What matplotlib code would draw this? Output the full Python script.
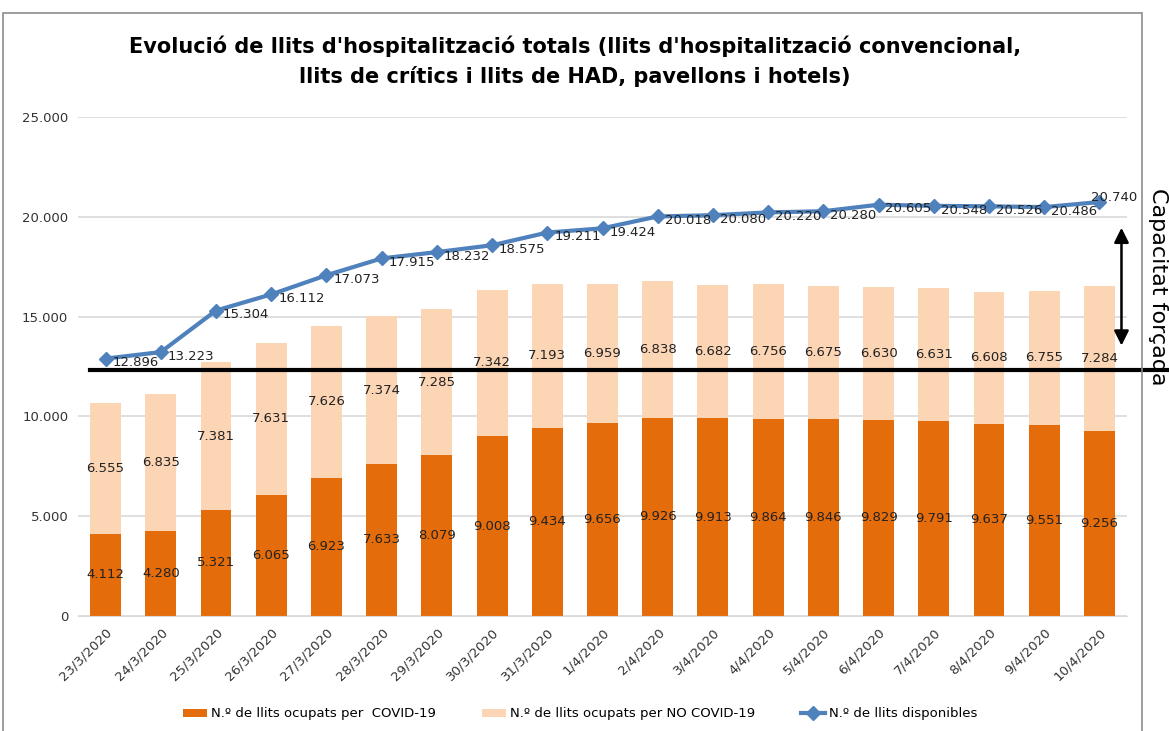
import matplotlib.pyplot as plt
import numpy as np
from matplotlib.patches import Rectangle

# data
dates = ["23/3/2020", "24/3/2020", "25/3/2020", "26/3/2020", "27/3/2020",
         "28/3/2020", "29/3/2020", "30/3/2020", "31/3/2020", "1/4/2020",
         "2/4/2020", "3/4/2020", "4/4/2020", "5/4/2020", "6/4/2020",
         "7/4/2020", "8/4/2020", "9/4/2020", "10/4/2020"]
covid = [4112, 4280, 5321, 6065, 6923, 7633, 8079, 9008, 9434, 9656,
         9926, 9913, 9864, 9846, 9829, 9791, 9637, 9551, 9256]
no_covid = [6555, 6835, 7381, 7631, 7626, 7374, 7285, 7342, 7193, 6959,
            6838, 6682, 6756, 6675, 6630, 6631, 6608, 6755, 7284]
disponibles = [12896, 13223, 15304, 16112, 17073, 17915, 18232, 18575, 19211, 19424,
               20018, 20080, 20220, 20280, 20605, 20548, 20526, 20486, 20740]
capacitat = 12320  # black reference line
arrow_top, arrow_bottom = 19450, 13550


def fmt(v):
    return f"{v:,}".replace(",", ".")


c_covid = '#E46C0A'
c_nocovid = '#FCD5B5'
c_line = '#4F81BD'

fig = plt.figure(figsize=(11.69, 7.31), dpi=100)
ax = fig.add_axes([78 / 1169, 1 - 616 / 731, 1049 / 1169, 499 / 731])

x = np.arange(len(dates))
width = 0.56
b1 = ax.bar(x, covid, width, color=c_covid, label='N.º de llits ocupats per  COVID-19', zorder=2)
b2 = ax.bar(x, no_covid, width, bottom=covid, color=c_nocovid,
            label='N.º de llits ocupats per NO COVID-19', zorder=2)
ln, = ax.plot(x, disponibles, color=c_line, lw=3, marker='D', ms=7,
              label='N.º de llits disponibles', zorder=4)

# data labels
for i in range(len(dates)):
    ax.text(x[i], covid[i] / 2, fmt(covid[i]), ha='center', va='center',
            fontsize=9.5, color='#222222', zorder=5)
    ax.text(x[i], covid[i] + no_covid[i] / 2, fmt(no_covid[i]), ha='center', va='center',
            fontsize=9.5, color='#222222', zorder=5)
    last = i == len(dates) - 1
    ax.annotate(fmt(disponibles[i]), (x[i], disponibles[i]),
                xytext=(-6, 3) if last else (5, -3),
                textcoords='offset points', ha='left', va='center',
                fontsize=9.5, color='#222222', zorder=5)

ax.set_xlim(-0.5, len(dates) - 0.5)
ax.set_ylim(0, 25000)
ax.set_yticks(np.arange(0, 25001, 5000))
ax.set_yticklabels([fmt(v) for v in range(0, 25001, 5000)], fontsize=9.5, color='#333333')
ax.set_xticks(x)
ax.set_xticklabels(dates, rotation=45, ha='right', rotation_mode='anchor',
                   fontsize=9.5, color='#333333')
ax.tick_params(axis='both', length=0, pad=7)
ax.grid(axis='y', color='#D9D9D9', lw=1.2, zorder=0)
for s in ['top', 'right', 'left']:
    ax.spines[s].set_visible(False)
ax.spines['bottom'].set_color('#D9D9D9')

# black "capacitat" line and arrow
ax.axhline(capacitat, xmin=0.011, xmax=1.04, color='black', lw=3, clip_on=False, zorder=6)
ax.annotate('', xy=(18.4, arrow_top), xytext=(18.4, arrow_bottom),
            arrowprops=dict(arrowstyle='<|-|>', color='black', lw=1.8,
                            mutation_scale=22, shrinkA=0, shrinkB=0),
            annotation_clip=False, zorder=6)
fig.text(1158 / 1169, 1 - 287 / 731, 'Capacitat forçada', rotation=-90,
         ha='center', va='center', fontsize=16, color='black')

# chart frame
fig.patches.append(Rectangle((3 / 1169, -0.01), 1139 / 1169, 1 - 13 / 731 + 0.01,
                             transform=fig.transFigure, fill=False,
                             edgecolor='#8C8C8C', lw=1.2))

fig.text(575 / 1169, 1 - 61 / 731,
         "Evolució de llits d'hospitalització totals (llits d'hospitalització convencional,\n"
         "llits de crítics i llits de HAD, pavellons i hotels)",
         ha='center', va='center', fontsize=15, fontweight='bold', linespacing=1.55)

ax.legend(handles=[b1, b2, ln], loc='center', bbox_to_anchor=(502 / 1049, -98 / 499),
          ncol=3, frameon=False, fontsize=9.5, handlelength=1.8, handleheight=0.6,
          handletextpad=0.3, columnspacing=3.5)

plt.savefig("out.png", dpi=100)
